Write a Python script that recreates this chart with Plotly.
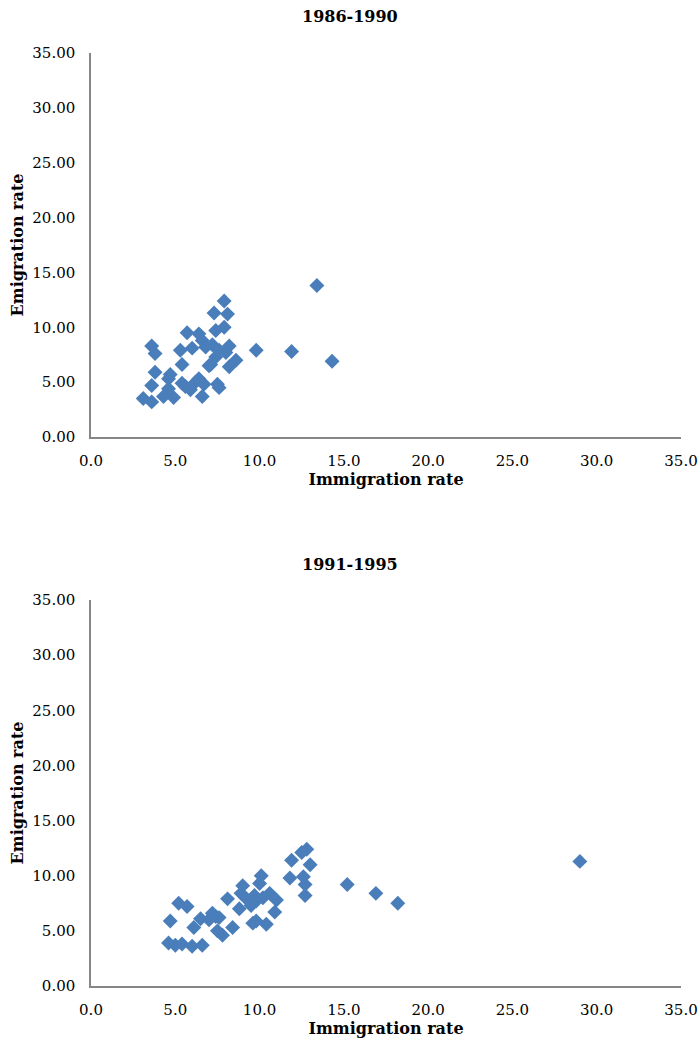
import plotly.graph_objects as go
from plotly.subplots import make_subplots

titles = ["1986-1990", "1991-1995"]
x_title = "Immigration rate"
y_title = "Emigration rate"

imm_8690 = [13.4, 7.9, 7.3, 8.1, 7.9, 7.4, 5.7, 6.4, 6.6, 3.6, 3.8, 5.3, 6.0, 6.8, 7.2,
            7.6, 8.2, 9.8, 11.9, 14.3, 8.6, 8.2, 7.4, 7.0, 5.4, 3.8, 4.7, 4.6, 5.4, 6.4,
            6.7, 7.5, 7.6, 3.6, 4.6, 5.9, 3.1, 3.6, 4.3, 4.9, 6.6, 7.1, 6.2, 8.0, 5.6]
emi_8690 = [13.8, 12.4, 11.3, 11.2, 10.0, 9.7, 9.5, 9.4, 8.8, 8.3, 7.6, 7.9, 8.1, 8.2, 8.4,
            7.9, 8.3, 7.9, 7.8, 6.9, 7.0, 6.4, 7.3, 6.5, 6.6, 5.9, 5.7, 5.3, 4.9, 5.3,
            4.8, 4.8, 4.5, 4.7, 4.4, 4.3, 3.5, 3.2, 3.7, 3.6, 3.7, 6.6, 5.0, 7.7, 4.6]

imm_9195 = [29.0, 12.8, 12.5, 11.9, 13.0, 10.1, 12.6, 11.8, 10.0, 9.0, 12.7, 15.2, 8.9, 16.9,
            12.7, 8.1, 9.7, 10.6, 11.0, 18.2, 5.2, 5.7, 8.8, 9.5, 9.8, 10.9, 7.2, 7.4, 6.5,
            7.0, 4.7, 6.1, 8.4, 9.8, 10.4, 9.6, 7.5, 7.8, 4.6, 5.0, 5.4, 6.0, 6.6, 10.2,
            9.3, 7.6]
emi_9195 = [11.3, 12.4, 12.1, 11.4, 11.0, 10.0, 9.9, 9.8, 9.3, 9.1, 9.2, 9.2, 8.4, 8.4,
            8.2, 7.9, 8.2, 8.4, 7.8, 7.5, 7.5, 7.2, 7.0, 7.3, 7.7, 6.7, 6.6, 6.3, 6.1,
            6.0, 5.9, 5.3, 5.3, 5.9, 5.6, 5.7, 5.0, 4.6, 3.9, 3.7, 3.8, 3.6, 3.7, 8.0,
            7.8, 6.2]

x_ticks = [0, 5, 10, 15, 20, 25, 30, 35]
y_ticks = [0, 5, 10, 15, 20, 25, 30, 35]

FONT = "DejaVu Serif"
COLOR = "#4A7EBB"
AXIS = "#868686"

fig = make_subplots(rows=2, cols=1)

for i, (xs, ys) in enumerate([(imm_8690, emi_8690), (imm_9195, emi_9195)], start=1):
    fig.add_trace(go.Scatter(
        x=xs, y=ys, mode="markers",
        marker=dict(symbol="diamond", size=11.5, color=COLOR,
                    line=dict(width=0)),
        showlegend=False), row=i, col=1)

W, H = 699, 1043
mt, mb = 53, 57
ph = H - mt - mb

def py(pix):
    return (H - mb - pix) / ph

domains = [[py(437), py(53)], [py(986), py(600)]]

for i in range(2):
    xa = "xaxis" if i == 0 else "xaxis2"
    ya = "yaxis" if i == 0 else "yaxis2"
    fig.update_layout(**{
        xa: dict(range=[0, 35], tickvals=x_ticks, tickformat=".1f",
                 showgrid=False, zeroline=False, showline=True,
                 linecolor=AXIS, linewidth=1.5, ticks="",
                 ticklabelstandoff=9,
                 tickfont=dict(family=FONT, size=15, color="#000"),
                 title=dict(text="<b>" + x_title + "</b>", standoff=5,
                            font=dict(family=FONT, size=16, color="#000"))),
        ya: dict(range=[0, 35], tickvals=y_ticks, tickformat=".2f",
                 domain=domains[i],
                 showgrid=False, zeroline=False, showline=True,
                 linecolor=AXIS, linewidth=1.5, ticks="",
                 ticklabelstandoff=11,
                 tickfont=dict(family=FONT, size=15, color="#000"),
                 title=dict(text="<b>" + y_title + "</b>", standoff=5,
                            font=dict(family=FONT, size=16, color="#000"))),
    })

title_x = (W / 2 - 91) / (W - 91 - 18)
fig.add_annotation(text="<b>" + titles[0] + "</b>", xref="paper", yref="paper",
                   x=title_x, y=py(17), showarrow=False, xanchor="center", yanchor="middle",
                   font=dict(family=FONT, size=16, color="#000"))
fig.add_annotation(text="<b>" + titles[1] + "</b>", xref="paper", yref="paper",
                   x=title_x, y=py(564), showarrow=False, xanchor="center", yanchor="middle",
                   font=dict(family=FONT, size=16, color="#000"))

fig.update_layout(width=W, height=H,
                  margin=dict(l=91, r=18, t=mt, b=mb, autoexpand=False),
                  plot_bgcolor="white", paper_bgcolor="white")

fig.write_html("out.html", config={"displayModeBar": False},
               post_script="document.body.style.margin='0';document.body.style.overflow='hidden';")
